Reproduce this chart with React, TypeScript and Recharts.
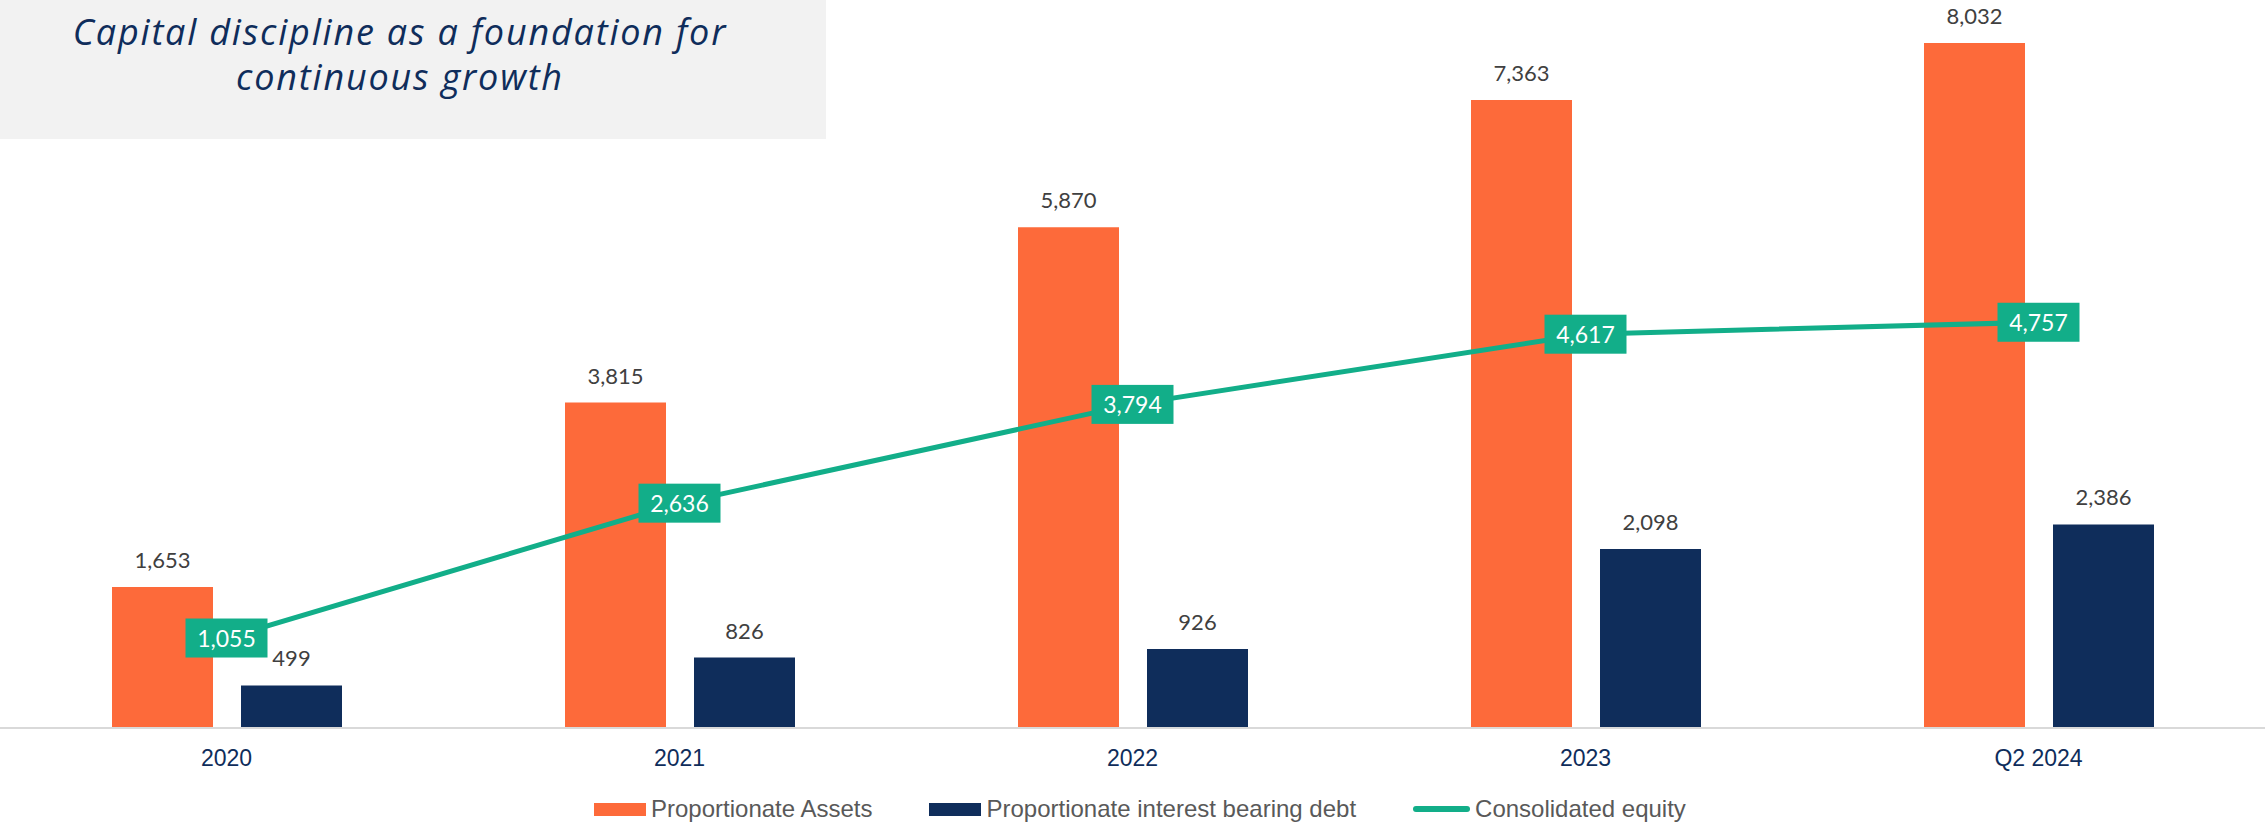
import React from "react";
import {
  ComposedChart,
  Bar,
  Line,
  XAxis,
  YAxis,
  LabelList,
} from "recharts";

const categories = ["2020", "2021", "2022", "2023", "Q2 2024"];
const assets = [1653, 3815, 5870, 7363, 8032];
const debt = [499, 826, 926, 2098, 2386];
const equity = [1055, 2636, 3794, 4617, 4757];

const ORANGE = "#FD6A3A";
const NAVY = "#0F2D5B";
const GREEN = "#12AE89";

const data = categories.map((name, i) => ({
  name,
  assets: assets[i],
  debt: debt[i],
  equity: equity[i],
}));

const fmt = (v: number) => Number(v).toLocaleString("en-US");

const EquityLabel = (props: any) => {
  const { x, y, value } = props;
  return (
    <g>
      <rect x={x - 41} y={y - 19.5} width={82} height={39} fill={GREEN} />
      <text
        x={x}
        y={y}
        textAnchor="middle"
        dominantBaseline="central"
        fill="#ffffff"
        fontSize={23}
        fontFamily="Lato"
      >
        {fmt(value)}
      </text>
    </g>
  );
};

const legendItems = [
  { label: "Proportionate Assets", color: ORANGE, kind: "rect" },
  { label: "Proportionate interest bearing debt", color: NAVY, kind: "rect" },
  { label: "Consolidated equity", color: GREEN, kind: "line" },
];

const App: React.FC = () => {
  return (
    <div
      style={{
        position: "absolute",
        left: 0,
        top: 0,
        width: 2265,
        height: 825,
        background: "#ffffff",
        overflow: "hidden",
      }}
    >
      <div
        style={{
          position: "absolute",
          left: 0,
          top: 0,
          width: 826,
          height: 139,
          background: "#F2F2F2",
        }}
      />
      <div
        style={{
          position: "absolute",
          left: 0,
          top: 9,
          width: 800,
          textAlign: "center",
          fontFamily: "Open Sans",
          fontStyle: "italic",
          fontSize: 36,
          letterSpacing: 1.8,
          lineHeight: "45px",
          color: NAVY,
        }}
      >
        Capital discipline as a foundation for
        <br />
        continuous growth
      </div>
      <div style={{ position: "absolute", left: 0, top: 0 }}>
        <ComposedChart
          width={2265}
          height={825}
          data={data}
          margin={{ top: 3, right: 0, bottom: 0, left: 0 }}
          barSize={101}
          barGap={28}
        >
          <XAxis
            dataKey="name"
            height={97}
            axisLine={{ stroke: "#D9D9D9", strokeWidth: 2 }}
            tickLine={false}
            tickMargin={16}
            tick={{ fill: NAVY, fontSize: 23, fontFamily: "Liberation Sans" }}
          />
          <YAxis hide domain={[0, 8500]} />
          <Bar dataKey="assets" fill={ORANGE} isAnimationActive={false}>
            <LabelList
              dataKey="assets"
              position="top"
              offset={19}
              formatter={(v: any) => fmt(v)}
              fill="#404040"
              fontSize={22}
              fontFamily="Lato"
            />
          </Bar>
          <Bar dataKey="debt" fill={NAVY} isAnimationActive={false}>
            <LabelList
              dataKey="debt"
              position="top"
              offset={19}
              formatter={(v: any) => fmt(v)}
              fill="#404040"
              fontSize={22}
              fontFamily="Lato"
            />
          </Bar>
          <Line
            dataKey="equity"
            stroke={GREEN}
            strokeWidth={5}
            dot={false}
            activeDot={false}
            isAnimationActive={false}
          >
            <LabelList dataKey="equity" content={<EquityLabel />} />
          </Line>
        </ComposedChart>
      </div>
      <div
        style={{
          position: "absolute",
          left: 594,
          top: 795,
          height: 28,
          display: "flex",
          alignItems: "center",
          gap: 57,
          fontFamily: "Liberation Sans",
          fontSize: 24,
          color: "#595959",
        }}
      >
        {legendItems.map((it) => (
          <div
            key={it.label}
            style={{ display: "flex", alignItems: "center", gap: 5 }}
          >
            {it.kind === "rect" ? (
              <div style={{ width: 52, height: 13, background: it.color }} />
            ) : (
              <div
                style={{
                  width: 57,
                  height: 6,
                  borderRadius: 3,
                  background: it.color,
                }}
              />
            )}
            <span>{it.label}</span>
          </div>
        ))}
      </div>
    </div>
  );
};

export default App;
